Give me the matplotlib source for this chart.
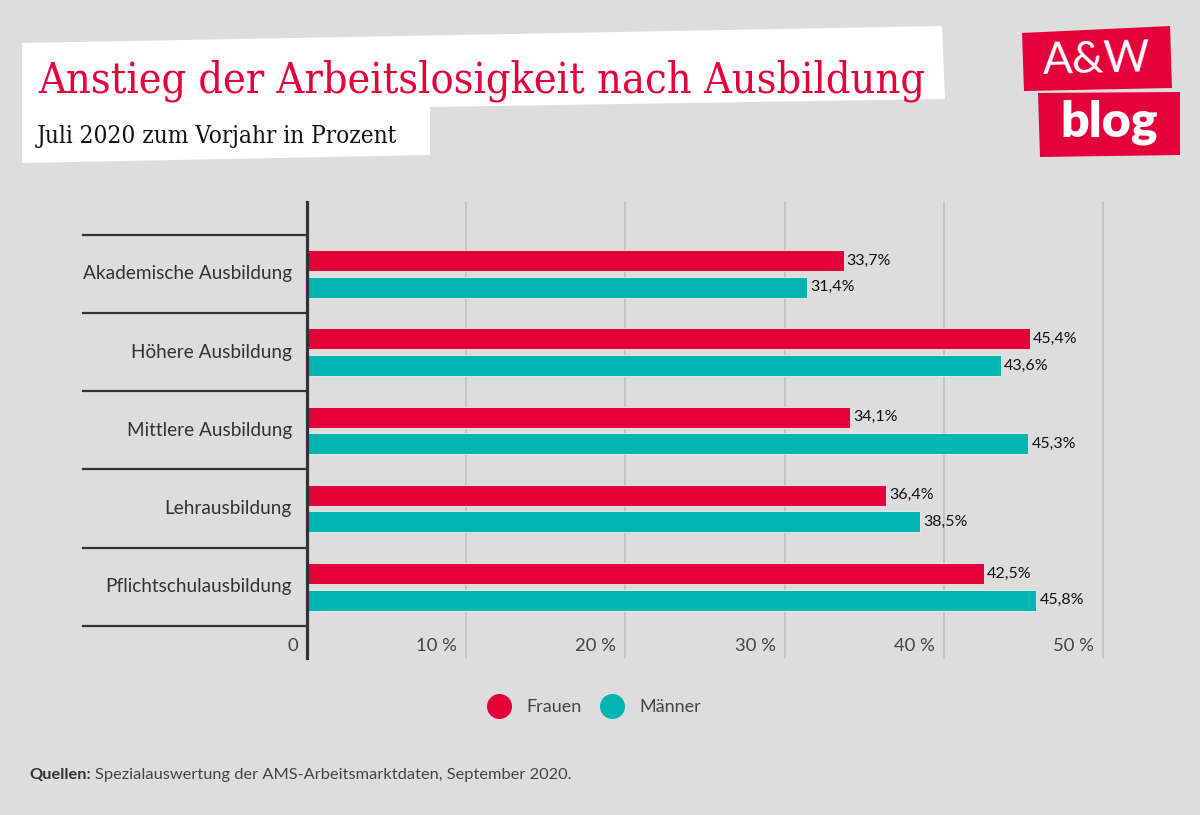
import matplotlib.pyplot as plt
from matplotlib.patches import Polygon
from matplotlib.lines import Line2D
import numpy as np

# Daten
kategorien = ['Akademische Ausbildung', 'Höhere Ausbildung', 'Mittlere Ausbildung',
              'Lehrausbildung', 'Pflichtschulausbildung']
frauen = [33.7, 45.4, 34.1, 36.4, 42.5]
maenner = [31.4, 43.6, 45.3, 38.5, 45.8]
xticks = [0, 10, 20, 30, 40, 50]
xtick_labels = ['0', '10 %', '20 %', '30 %', '40 %', '50 %']

rot = '#e4003b'
tuerkis = '#00b4b4'
bg = '#dddddd'
sans = ['Lato', 'DejaVu Sans']

W, H = 1200, 815
fig = plt.figure(figsize=(12, 8.15), dpi=100)
fig.patch.set_facecolor(bg)

# Dekoration in Pixelkoordinaten
deco = fig.add_axes([0, 0, 1, 1])
deco.set_xlim(0, W)
deco.set_ylim(H, 0)
deco.axis('off')

deco.add_patch(Polygon([(22, 43), (942, 26), (945, 99), (430, 107), (430, 155), (22, 163)],
                       closed=True, fc='white', ec='none'))
deco.text(38, 92, 'Anstieg der Arbeitslosigkeit nach Ausbildung', color=rot,
          family='DejaVu Serif', fontstretch='condensed', fontsize=31, va='baseline')
deco.text(37, 143, 'Juli 2020 zum Vorjahr in Prozent', color='#111111',
          family='DejaVu Serif', fontstretch='condensed', fontsize=17.5, va='baseline')

# Logo
deco.add_patch(Polygon([(1022, 33), (1170, 26), (1172, 88), (1024, 91)], closed=True, fc=rot, ec='none'))
deco.add_patch(Polygon([(1038, 93), (1180, 92), (1180, 155), (1040, 157)], closed=True, fc=rot, ec='none'))
deco.text(1097, 60, 'A&W', color='white', family=sans, fontsize=32,
          ha='center', va='center', rotation=1.5)
deco.text(1109, 122, 'blog', color='white', family=sans, fontsize=36, fontweight='heavy',
          ha='center', va='center')

# Diagramm
ax = fig.add_axes([307 / W, 1 - 658 / H, (1103 - 307) / W, (658 - 202) / H])
ax.set_facecolor('none')
y = np.arange(len(kategorien))
ax.barh(y - 0.17, frauen, height=0.27, color=rot, edgecolor='#eeeeee', linewidth=0.6, zorder=3)
ax.barh(y + 0.17, maenner, height=0.27, color=tuerkis, edgecolor='#eeeeee', linewidth=0.6, zorder=3)
ax.set_xlim(0, 50)
ax.set_ylim(4.91, -0.92)
for s in ax.spines.values():
    s.set_visible(False)
ax.set_xticks([])
ax.set_yticks([])

for t in xticks[1:]:
    ax.axvline(t, color='#bdbdbd', lw=1.1, zorder=1, clip_on=False)
ax.axvline(0, color='#333333', lw=2.3, zorder=4, clip_on=False)

for t, l in zip(xticks, xtick_labels):
    ax.text(t - 0.57, 0.026, l, transform=ax.get_xaxis_transform(), ha='right', va='center',
            family=sans, fontsize=13.3, color='#444444')

trans = ax.get_yaxis_transform()
for b in np.arange(-0.5, len(kategorien), 1):
    ax.plot([-0.281, 0], [b, b], transform=trans, color='#333333', lw=1.6, clip_on=False)
for i, name in enumerate(kategorien):
    ax.text(-15 / 796, i, name, transform=trans, ha='right', va='center',
            family=sans, fontsize=13.7, color='#333333')

for i in y:
    for v, off in ((frauen[i], -0.17), (maenner[i], 0.17)):
        ax.text(v + 0.2, i + off, f'{v:.1f}%'.replace('.', ','), va='center', ha='left',
                family=sans, fontsize=11.5, color='#111111')

# Legende
handles = [Line2D([], [], marker='o', ls='', color=rot, markersize=17),
           Line2D([], [], marker='o', ls='', color=tuerkis, markersize=17)]
fig.legend(handles, ['Frauen', 'Männer'], loc='center', bbox_to_anchor=(594 / W, 1 - 707 / H),
           ncol=2, frameon=False, prop={'family': sans, 'size': 13}, labelcolor='#444444',
           handlelength=1.4, handletextpad=0.8, columnspacing=1.0)

# Quelle
r = fig.canvas.get_renderer()
t1 = deco.text(29, 775, 'Quellen:', fontweight='bold', family=sans, fontsize=11.8,
               color='#333333', va='center')
w = t1.get_window_extent(r).width
deco.text(29 + w + 4, 775, 'Spezialauswertung der AMS-Arbeitsmarktdaten, September 2020.',
          family=sans, fontsize=11.8, color='#444444', va='center')

fig.savefig('out.png', dpi=100, facecolor=fig.get_facecolor())
